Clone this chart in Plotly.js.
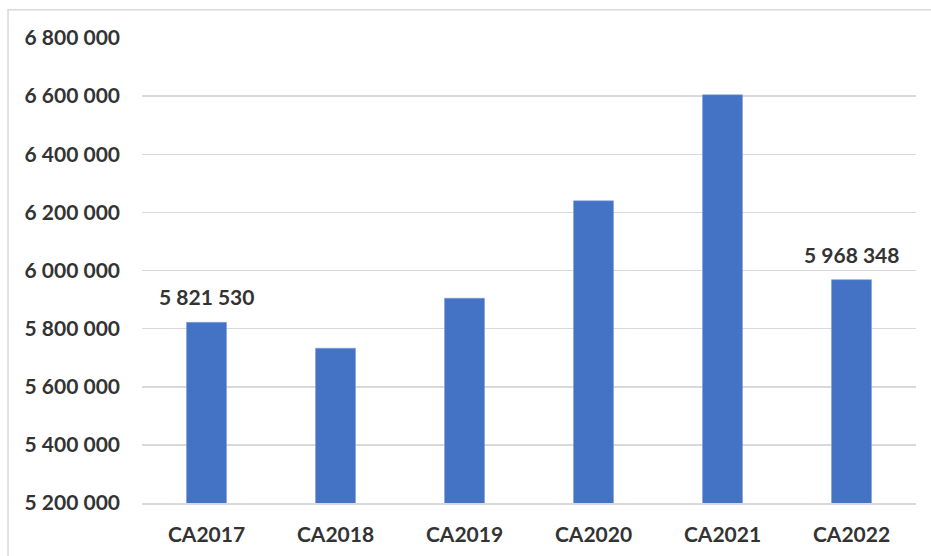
<!DOCTYPE html>
<html>
<head>
<meta charset="utf-8">
<script src="https://cdn.plot.ly/plotly-3.0.1.min.js"></script>
<style>
  html, body { margin: 0; padding: 0; background: #ffffff; }
  #chart { width: 931px; height: 556px; }
</style>
</head>
<body>
<div id="chart"></div>
<script>
// Annual turnover (chiffre d'affaires) by year
const categories = ["CA2017", "CA2018", "CA2019", "CA2020", "CA2021", "CA2022"];
const values = [5821530, 5732500, 5904600, 6239600, 6604500, 5968348];
// Only these bars carry a value label
const labelled = ["CA2017", "CA2022"];
const yTicks = [5200000, 5400000, 5600000, 5800000, 6000000, 6200000, 6400000, 6600000, 6800000];

const fmt = v => Math.round(v).toString().replace(/\B(?=(\d{3})+(?!\d))/g, " ");

const textColor = "#333333";
const gridColor = "#d9d9d9";
const font = { family: "Lato, 'Open Sans', sans-serif", size: 21, color: textColor, weight: 700 };

const trace = {
  type: "bar",
  x: categories,
  y: values,
  marker: { color: "#4472C4", line: { color: "#7f9fd9", width: 0.6 } },
  hoverinfo: "skip"
};

const annotations = categories
  .map((c, i) => ({ c, v: values[i] }))
  .filter(d => labelled.includes(d.c))
  .map(d => ({
    x: d.c, y: d.v, xref: "x", yref: "y",
    text: "<b>" + fmt(d.v) + "</b>",
    showarrow: false, yanchor: "bottom", yshift: 11,
    font: font
  }));

const layout = {
  width: 931, height: 556,
  margin: { l: 142, r: 15, t: 38, b: 53 },
  paper_bgcolor: "#ffffff",
  plot_bgcolor: "#ffffff",
  font: font,
  bargap: 0.69,
  showlegend: false,
  xaxis: {
    type: "category",
    showgrid: false,
    showline: true, linecolor: gridColor, linewidth: 1.5,
    ticks: "", ticklabelstandoff: 12,
    tickfont: font,
    fixedrange: true
  },
  yaxis: {
    range: [5200000, 6800000],
    tickvals: yTicks,
    ticktext: yTicks.map(fmt),
    showgrid: true, gridcolor: gridColor, gridwidth: 1.5,
    zeroline: false, showline: false,
    ticks: "", ticklabelstandoff: 21,
    tickfont: font,
    fixedrange: true
  },
  annotations: annotations,
  shapes: [{
    type: "rect", xref: "paper", yref: "paper",
    x0: -0.1731, x1: 1.03, y0: -0.13, y1: 1.0609,
    line: { color: gridColor, width: 1.5 },
    fillcolor: "rgba(0,0,0,0)", layer: "below"
  }]
};

Plotly.newPlot("chart", [trace], layout, { displayModeBar: false, staticPlot: true });
</script>
</body>
</html>
